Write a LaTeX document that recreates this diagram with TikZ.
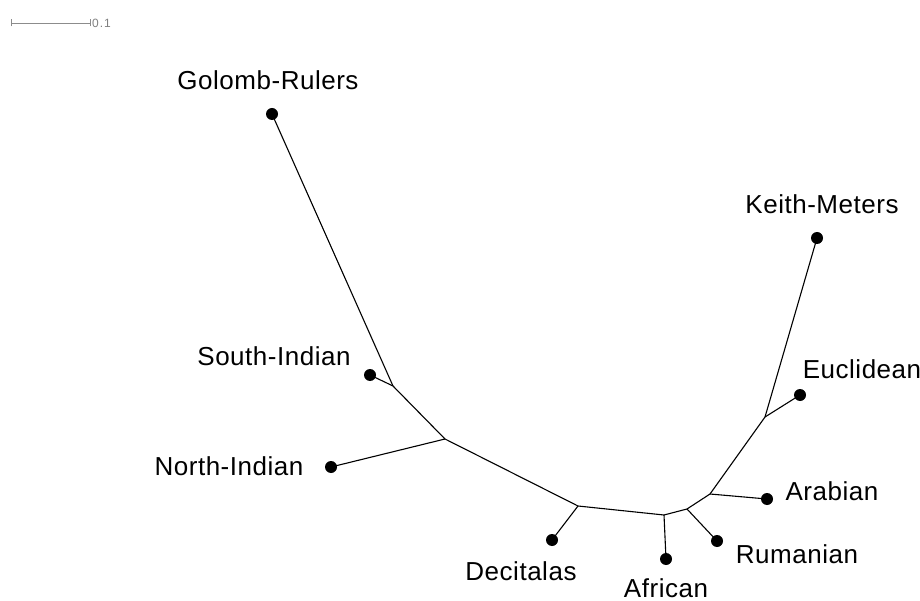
\documentclass[tikz,border=0pt]{standalone}
\usepackage{fontspec}
\setmainfont{Liberation Sans}[LetterSpace=2]
\newfontfamily\smallsans{Liberation Sans}[LetterSpace=8]
\begin{document}
\begin{tikzpicture}[x=1pt,y=-1pt,
  leaf/.style={circle,fill=black,inner sep=0pt,minimum size=12pt},
  lbl/.style={anchor=base,inner sep=0pt,font=\fontsize{26}{30}\selectfont},
  br/.style={line width=1.1pt},
  sbar/.style={draw=gray!90,line width=0.8pt}]
\useasboundingbox (0,0) rectangle (920,601);
% scale bar
\coordinate (s0) at (11,23);
\coordinate (s1) at (90,23);
\draw[sbar] (s0) -- (s1);
\draw[sbar] ([yshift=-3.5pt]s0) -- ([yshift=3.5pt]s0);
\draw[sbar] ([yshift=-3.5pt]s1) -- ([yshift=3.5pt]s1);
\node[anchor=base west,inner sep=0pt,text=gray,font=\smallsans\fontsize{12}{14}\selectfont] (sl) at (92,27.5) {0.1};
% internal nodes
\coordinate (j1) at (393,386);
\coordinate (j2) at (445,439);
\coordinate (j3) at (578,506);
\coordinate (j4) at (664,515);
\coordinate (j5) at (687,509);
\coordinate (j6) at (710,494);
\coordinate (j7) at (765,417);
% leaves
\coordinate (golomb) at (272,114);
\coordinate (keith) at (817,238);
\coordinate (south) at (370,375);
\coordinate (eucl) at (800,395);
\coordinate (north) at (331,467);
\coordinate (arab) at (767,499);
\coordinate (ruman) at (717,541);
\coordinate (afric) at (666,559);
\coordinate (decit) at (552,540);
% branches
\draw[br] (golomb) -- (j1);
\draw[br] (south) -- (j1);
\draw[br] (j1) -- (j2);
\draw[br] (north) -- (j2);
\draw[br] (j2) -- (j3);
\draw[br] (j3) -- (decit);
\draw[br] (j3) -- (j4);
\draw[br] (j4) -- (afric);
\draw[br] (j4) -- (j5);
\draw[br] (j5) -- (ruman);
\draw[br] (j5) -- (j6);
\draw[br] (j6) -- (arab);
\draw[br] (j6) -- (j7);
\draw[br] (j7) -- (eucl);
\draw[br] (j7) -- (keith);
% dots
\foreach \n in {golomb,keith,south,eucl,north,arab,ruman,afric,decit}
  \node[leaf] (d\n) at (\n) {};
% labels
\node[lbl] (lgolomb) at (268,90) {Golomb-Rulers};
\node[lbl] (lkeith) at (822,214) {Keith-Meters};
\node[lbl] (lsouth) at (274,365) {South-Indian};
\node[lbl] (leucl) at (862,378) {Euclidean};
\node[lbl] (lnorth) at (229,475) {North-Indian};
\node[lbl] (larab) at (832,500) {Arabian};
\node[lbl] (lruman) at (797,563) {Rumanian};
\node[lbl] (ldecit) at (521,580) {Decitalas};
\node[lbl] (lafric) at (666,597) {African};
\end{tikzpicture}
\end{document}
